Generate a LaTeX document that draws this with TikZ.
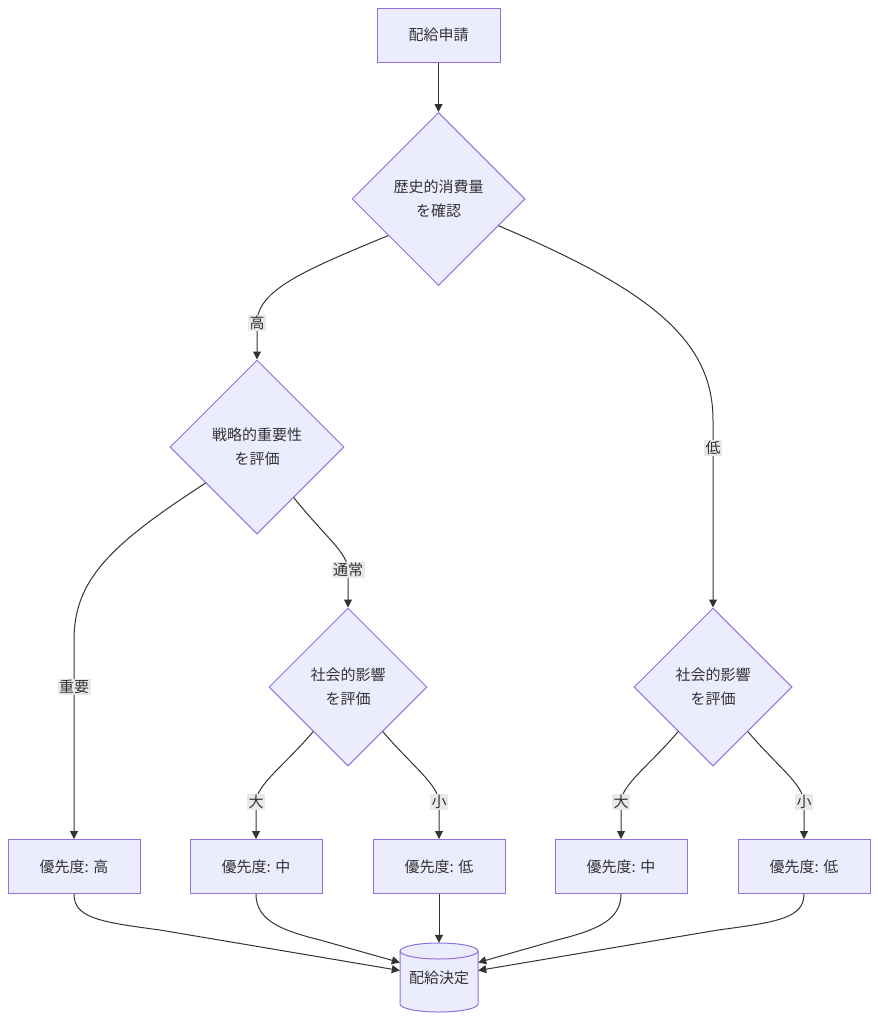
\documentclass[tikz,border=0pt]{standalone}
\usepackage{fontspec}
\setmainfont{Noto Sans CJK JP}
\usetikzlibrary{shapes.geometric, arrows.meta}
\definecolor{nodefill}{HTML}{ECECFF}
\definecolor{nodeline}{HTML}{9370DB}
\definecolor{edgeline}{HTML}{333333}
\definecolor{lblfill}{HTML}{E8E8E8}
\begin{document}
\begin{tikzpicture}[x=1pt, y=1pt, font={\fontsize{15}{24}\selectfont}, text=edgeline,
		box/.style = {draw=nodeline, fill=nodefill, line width=1pt, minimum width=132pt, minimum height=54pt, inner sep=0pt},
		decision/.style = {draw=nodeline, fill=nodefill, line width=1pt, diamond, aspect=1, inner sep=0pt, align=center},
		db/.style = {minimum width=78pt, minimum height=69pt, inner sep=0pt},
		lbl/.style = {fill=lblfill, inner sep=1.5pt},
		arr/.style = {draw=edgeline, line width=1pt, -{Triangle[length=8pt, width=8pt]}}]
		
		\useasboundingbox (0,0) rectangle (878,-1020);
		
		\node[box, minimum width=123pt] (req) at (438.5,-35) {配給申請};
		\node[decision, minimum width=173pt, minimum height=173pt] (hist) at (438.5,-199) {歴史的消費量\\を確認};
		\node[decision, minimum width=174pt, minimum height=174pt] (strat) at (257,-447) {戦略的重要性\\を評価};
		\node[decision, minimum width=158pt, minimum height=158pt] (socA) at (348,-687) {社会的影響\\を評価};
		\node[decision, minimum width=158pt, minimum height=158pt] (socB) at (713,-687) {社会的影響\\を評価};
		
		\node[box] (pHigh) at (74,-866.5) {優先度: 高};
		\node[box] (pMidA) at (256,-866.5) {優先度: 中};
		\node[box] (pLowA) at (439,-866.5) {優先度: 低};
		\node[box] (pMidB) at (621,-866.5) {優先度: 中};
		\node[box] (pLowB) at (804,-866.5) {優先度: 低};
		
		% database
		\filldraw[draw=nodeline, fill=nodefill, line width=1pt] (400,-951) -- (400,-1004)
			arc[start angle=180, end angle=360, x radius=39, y radius=8] -- (478,-951)
			arc[start angle=0, end angle=180, x radius=39, y radius=8] -- cycle;
		\draw[nodeline, line width=1pt] (400,-951) arc[start angle=180, end angle=360, x radius=39, y radius=8];
		\node[db] (final) at (439,-977.5) {配給決定};
		
		\coordinate (lHigh) at (257,-323);
		\coordinate (lLow) at (713,-448);
		\coordinate (lKey) at (74,-687);
		\coordinate (lNorm) at (348,-570);
		\coordinate (lBigA) at (256,-802);
		\coordinate (lSmallA) at (439,-802);
		\coordinate (lBigB) at (621,-802);
		\coordinate (lSmallB) at (804,-802);
		
		\draw[arr] (req) -- (hist);
		\draw[arr] (hist.216) .. controls (305,-270) and (257,-290) .. (lHigh) -- (strat.north);
		\draw[arr] (hist.-24) .. controls (650,-290) and (713,-340) .. (713,-420) -- (lLow) -- (socB.north);
		\draw[arr] (strat.215) .. controls (110,-545) and (74,-580) .. (74,-640) -- (lKey) -- (pHigh.north);
		\draw[arr] (strat.306) .. controls (328,-540) and (347,-552) .. (lNorm) -- (socA.north);
		\draw[arr] (socA.232) .. controls (284,-766) and (257,-784) .. (lBigA) -- (pMidA.north);
		\draw[arr] (socA.308) .. controls (412,-766) and (438,-784) .. (lSmallA) -- (pLowA.north);
		\draw[arr] (socB.232) .. controls (649,-766) and (622,-784) .. (lBigB) -- (pMidB.north);
		\draw[arr] (socB.308) .. controls (777,-766) and (803,-784) .. (lSmallB) -- (pLowB.north);
		
		\draw[arr] (pHigh.south) .. controls (74,-918) and (100,-922) .. (160,-930) -- ([yshift=7pt]final.west);
		\draw[arr] (pMidA.south) .. controls (256,-920) and (280,-930) .. (320,-940) -- ([yshift=15pt]final.west);
		\draw[arr] (pLowA.south) -- (final.north);
		\draw[arr] (pMidB.south) .. controls (621,-920) and (597,-930) .. (557,-940) -- ([yshift=15pt]final.east);
		\draw[arr] (pLowB.south) .. controls (804,-918) and (778,-922) .. (718,-930) -- ([yshift=7pt]final.east);
		
		\node[lbl] at (lHigh) {高};
		\node[lbl] at (lLow) {低};
		\node[lbl] at (lKey) {重要};
		\node[lbl] at (lNorm) {通常};
		\node[lbl] at (lBigA) {大};
		\node[lbl] at (lSmallA) {小};
		\node[lbl] at (lBigB) {大};
		\node[lbl] at (lSmallB) {小};
		
	\end{tikzpicture}
\end{document}
